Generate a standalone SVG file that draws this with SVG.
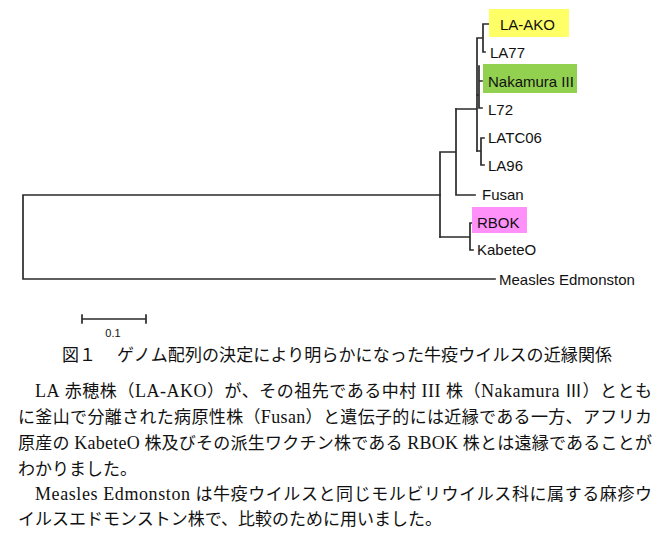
<svg xmlns="http://www.w3.org/2000/svg" width="671" height="536" viewBox="0 0 671 536">
<style>
.br{fill:none;stroke:#2b2b2b;stroke-width:1.7;stroke-linecap:square}
.lb{font-family:"Liberation Sans",Arial,sans-serif;font-size:15px;fill:#111}
.sc{font-family:"Liberation Sans",Arial,sans-serif;font-size:11px;fill:#111}
.jp{font-family:"Liberation Serif","Noto Sans CJK JP",serif;font-size:17px;fill:#111}
.la{font-size:18px}
</style>
<rect width="671" height="536" fill="#fff"/>
<g id="connectors">
<path class="br" d="M23,195V279M23,195H440M23,279H495"/>
<path class="br" d="M440,152V237M440,152H456M456,109V195M456,195H475"/>
<path class="br" d="M456,109H477M477,38V151M477,38H483M483,24V52M483,24H490M483,52H485"/>
<path class="br" d="M479,66V108M477,95H479M479,81H482M479,108H482"/>
<path class="br" d="M477,151H481M481,138V165M481,138H484M481,165H484"/>
<path class="br" d="M440,237H470M470,223V250M470,223H473M470,250H473"/>
</g>
<g id="LA-AKO"><rect x="489" y="9" width="80" height="28" fill="#ffff66"/><text class="lb" x="500" y="29.5">LA-AKO</text></g>
<g id="LA77"><text class="lb" x="490" y="57.5">LA77</text></g>
<g id="Nakamura-III"><rect x="483" y="64" width="94" height="29" fill="#92d050"/><text class="lb" x="488" y="86.5">Nakamura III</text></g>
<g id="L72"><text class="lb" x="488" y="114.5">L72</text></g>
<g id="LATC06"><text class="lb" x="488" y="142.5">LATC06</text></g>
<g id="LA96"><text class="lb" x="488" y="170.5">LA96</text></g>
<g id="Fusan"><text class="lb" x="482" y="199.5">Fusan</text></g>
<g id="RBOK"><rect x="472" y="207" width="55" height="26" fill="#ff90fa"/><text class="lb" x="477" y="227.5">RBOK</text></g>
<g id="KabeteO"><text class="lb" x="477" y="254.5">KabeteO</text></g>
<g id="Measles-Edmonston"><text class="lb" x="499" y="284.5">Measles Edmonston</text></g>
<g id="scale">
<path class="br" d="M82,319H146M82,315V323M146,315V323"/>
<text class="sc" x="113" y="337" text-anchor="middle">0.1</text>
</g>
<g id="caption">
<text class="jp" x="62" y="361">図１</text>
<text class="jp" x="117" y="361" textLength="495" lengthAdjust="spacing">ゲノム配列の決定により明らかになった牛疫ウイルスの近縁関係</text>
</g>
<g id="body">
<text class="jp" x="35" y="397" textLength="617" lengthAdjust="spacing"><tspan class="la">LA</tspan> 赤穂株（<tspan class="la">LA-AKO</tspan>）が、その祖先である中村 <tspan class="la">III</tspan> 株（<tspan class="la">Nakamura</tspan> Ⅲ）ととも</text>
<text class="jp" x="18" y="423" textLength="634" lengthAdjust="spacing">に釜山で分離された病原性株（<tspan class="la">Fusan</tspan>）と遺伝子的には近縁である一方、アフリカ</text>
<text class="jp" x="18" y="449" textLength="634" lengthAdjust="spacing">原産の <tspan class="la">KabeteO</tspan> 株及びその派生ワクチン株である <tspan class="la">RBOK</tspan> 株とは遠縁であることが</text>
<text class="jp" x="18" y="475">わかりました。</text>
<text class="jp" x="35" y="500" textLength="617" lengthAdjust="spacing"><tspan class="la">Measles  Edmonston</tspan> は牛疫ウイルスと同じモルビリウイルス科に属する麻疹ウ</text>
<text class="jp" x="18" y="525">イルスエドモンストン株で、比較のために用いました。</text>
</g>
</svg>
